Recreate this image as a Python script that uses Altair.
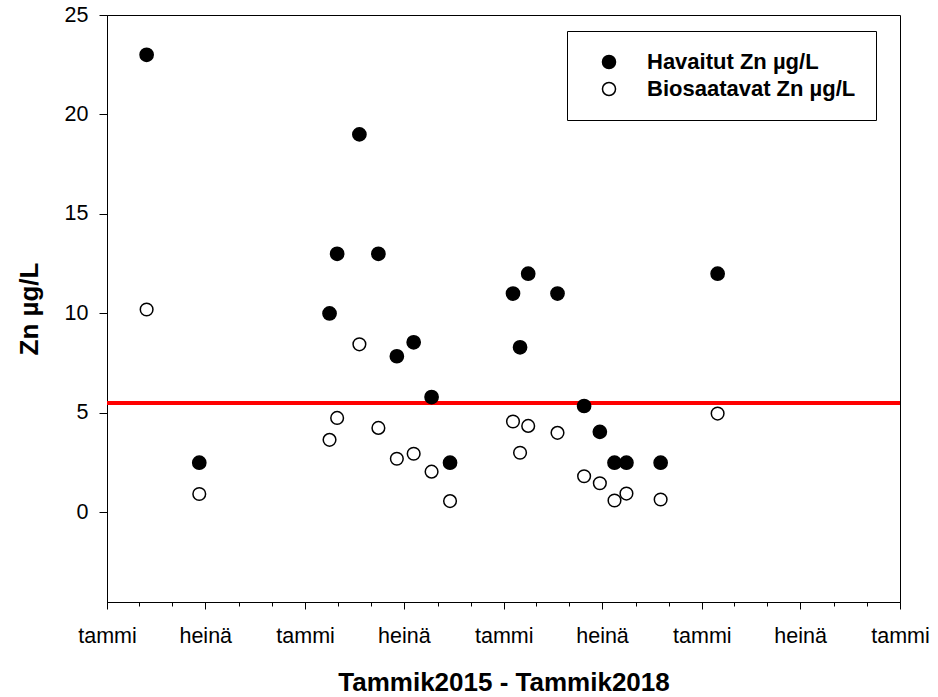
import altair as alt
import pandas as pd

# Sampling dates and zinc concentrations (µg/L)
dates = [
    "2015-03-15", "2015-06-20", "2016-02-15", "2016-02-29", "2016-04-10",
    "2016-05-15", "2016-06-18", "2016-07-19", "2016-08-21", "2016-09-24",
    "2017-01-18", "2017-01-31", "2017-02-15", "2017-04-10", "2017-05-29",
    "2017-06-27", "2017-07-24", "2017-08-15", "2017-10-17", "2018-01-30",
]
havaitut = [23.0, 2.5, 10.0, 13.0, 19.0, 13.0, 7.85, 8.55, 5.8, 2.5,
            11.0, 8.3, 12.0, 11.0, 5.35, 4.05, 2.5, 2.5, 2.5, 12.0]
biosaatavat = [10.2, 0.93, 3.65, 4.75, 8.45, 4.25, 2.7, 2.95, 2.05, 0.57,
               4.57, 3.0, 4.35, 4.0, 1.82, 1.47, 0.6, 0.95, 0.65, 4.97]
raja_arvo = 5.5

sarjat = ["Havaitut Zn µg/L", "Biosaatavat Zn µg/L"]

rows = []
for d, h, b in zip(dates, havaitut, biosaatavat):
    rows.append({"pvm": d, "sarja": sarjat[0], "zn": h})
    rows.append({"pvm": d, "sarja": sarjat[1], "zn": b})
df = pd.DataFrame(rows)

FONT = "Liberation Sans"
W, H = 793, 587


def dt(y, m):
    return alt.DateTime(year=y, month=m, date=1, utc=True)


x_domain = [dt(2015, 1), dt(2019, 1)]
major_vals = [dt(y, m) for y in range(2015, 2019) for m in (1, 7)] + [dt(2019, 1)]
minor_vals = [dt(y, m) for y in range(2015, 2019) for m in (1, 3, 5, 7, 9, 11)] + [dt(2019, 1)]

x_scale = alt.Scale(type="utc", domain=x_domain)
y_scale = alt.Scale(domain=[-4.5, 25], nice=False, zero=False)

y_axis = alt.Axis(
    values=[0, 5, 10, 15, 20, 25],
    tickSize=8,
    labelFontSize=21.5,
    labelPadding=11,
    title="Zn µg/L",
    titleFontSize=26,
    titleFontWeight="bold",
    titlePadding=22,
    grid=False,
)
y_enc = alt.Y("zn:Q", scale=y_scale, axis=y_axis)

fill_enc = alt.Fill(
    "sarja:N",
    scale=alt.Scale(domain=sarjat, range=["black", "white"]),
    legend=alt.Legend(
        title=None,
        orient="none",
        legendX=460,
        legendY=16,
        padding=20,
        strokeColor="black",
        fillColor="white",
        cornerRadius=0,
        symbolType="circle",
        symbolSize=170,
        symbolStrokeColor="black",
        symbolStrokeWidth=1.5,
        symbolOffset=11,
        labelOffset=27,
        labelFontSize=22,
        labelFontWeight="bold",
        labelFont=FONT,
        labelColor="black",
        rowPadding=5,
        labelLimit=400,
    ),
)

raja = alt.Chart(df).mark_rule(color="#ff0000", strokeWidth=2.5).encode(
    y=alt.YDatum(raja_arvo, scale=y_scale, axis=y_axis)
)

havaitut_layer = (
    alt.Chart(df)
    .transform_filter(alt.datum.sarja == sarjat[0])
    .mark_circle(size=175, stroke="black", strokeWidth=1.5, opacity=1)
    .encode(
        x=alt.X(
            "pvm:T",
            scale=x_scale,
            axis=alt.Axis(
                values=major_vals,
                labelExpr="utcmonth(datum.value) == 0 ? 'tammi' : 'heinä'",
                tickSize=7,
                labelFontSize=21.5,
                labelPadding=16,
                labelOverlap=False,
                labelFlush=False,
                title="Tammik2015 - Tammik2018",
                titleFontSize=26,
                titleFontWeight="bold",
                titlePadding=23,
                grid=False,
                orient="bottom",
            ),
        ),
        y=y_enc,
        fill=fill_enc,
    )
)

bio_layer = (
    alt.Chart(df)
    .transform_filter(alt.datum.sarja == sarjat[1])
    .mark_circle(size=160, stroke="black", strokeWidth=1.5, opacity=1)
    .encode(
        x=alt.X(
            "pvm:T",
            scale=x_scale,
            axis=alt.Axis(
                values=minor_vals,
                labels=False,
                domain=False,
                tickSize=4,
                title=None,
                grid=False,
                orient="bottom",
            ),
        ),
        y=y_enc,
        fill=fill_enc,
    )
)

chart = (
    alt.layer(raja, havaitut_layer, bio_layer)
    .resolve_axis(x="independent")
    .properties(
        width=W,
        height=H,
        autosize=alt.AutoSizeParams(type="none"),
        padding={"left": 107, "top": 15, "right": 38, "bottom": 95},
        background="white",
    )
    .configure_view(stroke="black", strokeWidth=1)
    .configure_axis(
        domainColor="black",
        domainWidth=1,
        tickColor="black",
        tickWidth=1,
        labelColor="black",
        titleColor="black",
        labelFont=FONT,
        titleFont=FONT,
    )
)

chart.save("out.html", embed_options={"renderer": "svg", "actions": False})
